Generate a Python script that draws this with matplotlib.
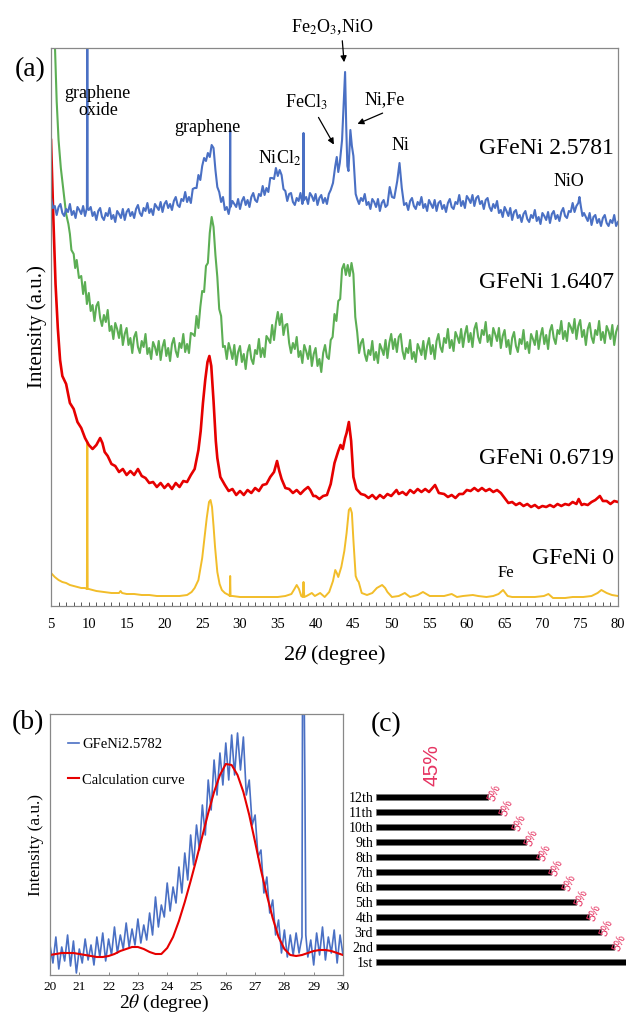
import matplotlib
matplotlib.use("Agg")
import matplotlib.pyplot as plt
from matplotlib.ticker import MultipleLocator

plt.rcParams["font.family"] = ["Liberation Serif", "DejaVu Serif"]
plt.rcParams["mathtext.fontset"] = "stix"

# ---------------- (a) stacked XRD patterns, (2theta, intensity a.u.) ----------------
BLUE_A = [
    (5.0, 408), (5.25, 398), (5.5, 400), (5.75, 391), (6.0, 399), (6.25, 402), (6.5, 393), (6.75, 390),
    (7.0, 397), (7.25, 394), (7.5, 402), (7.75, 391), (8.0, 395), (8.25, 388), (8.5, 399), (8.75, 396),
    (9.0, 392), (9.25, 400), (9.5, 390), (9.75, 398), (9.8, 600), (9.85, 398), (10.0, 396), (10.25, 399),
    (10.5, 390), (10.75, 394), (11.0, 386), (11.25, 395), (11.5, 398), (11.75, 389), (12.0, 386), (12.25, 393),
    (12.5, 390), (12.75, 398), (13.0, 387), (13.25, 391), (13.5, 384), (13.75, 395), (14.0, 392), (14.25, 388),
    (14.5, 397), (14.75, 386), (15.0, 394), (15.25, 397), (15.5, 390), (15.75, 394), (16.0, 388), (16.25, 397),
    (16.5, 401), (16.75, 393), (17.0, 390), (17.25, 398), (17.5, 395), (17.75, 403), (18.0, 393), (18.25, 397),
    (18.5, 391), (18.75, 402), (19.0, 399), (19.25, 396), (19.5, 404), (19.75, 394), (20.0, 402), (20.25, 405),
    (20.5, 398), (20.75, 402), (21.0, 396), (21.25, 405), (21.5, 409), (21.75, 401), (22.0, 399), (22.25, 407),
    (22.5, 405), (22.75, 414), (23.0, 404), (23.25, 409), (23.5, 403), (23.75, 417), (24.0, 418), (24.25, 418),
    (24.5, 431), (24.75, 426), (25.0, 440), (25.25, 448), (25.5, 445), (25.75, 453), (26.0, 449), (26.25, 461),
    (26.5, 458), (26.75, 436), (27.0, 419), (27.25, 414), (27.5, 404), (27.75, 409), (28.0, 396), (28.25, 399),
    (28.5, 392), (28.65, 398), (28.7, 476), (28.75, 399), (29.0, 405), (29.25, 402), (29.5, 399), (29.75, 407),
    (30.0, 397), (30.25, 405), (30.5, 409), (30.75, 401), (31.0, 406), (31.25, 399), (31.5, 409), (31.75, 413),
    (32.0, 406), (32.25, 404), (32.5, 412), (32.75, 410), (33.0, 420), (33.25, 411), (33.5, 418), (33.75, 414),
    (34.0, 428), (34.25, 428), (34.5, 427), (34.75, 438), (35.0, 430), (35.25, 436), (35.5, 431), (35.75, 417),
    (36.0, 415), (36.25, 405), (36.5, 412), (36.75, 413), (37.0, 404), (37.25, 401), (37.5, 408), (37.75, 405),
    (38.0, 413), (38.25, 402), (38.35, 405), (38.4, 473), (38.45, 406), (38.75, 409), (39.0, 402), (39.25, 413),
    (39.5, 410), (39.75, 405), (40.0, 412), (40.25, 401), (40.5, 408), (40.75, 411), (41.0, 403), (41.25, 408),
    (41.5, 402), (41.75, 412), (42.0, 416), (42.3, 423), (42.6, 440), (42.8, 449), (43.0, 434), (43.2, 443),
    (43.5, 466), (43.75, 510), (43.9, 534), (44.05, 480), (44.2, 440), (44.35, 435), (44.6, 476), (44.8, 460),
    (45.0, 450), (45.3, 412), (45.5, 407), (45.75, 402), (46.0, 408), (46.25, 405), (46.5, 412), (46.75, 401),
    (47.0, 404), (47.25, 397), (47.5, 407), (47.75, 404), (48.0, 399), (48.25, 407), (48.5, 395), (48.75, 403),
    (49.0, 406), (49.25, 399), (49.5, 401), (49.8, 419), (50.1, 409), (50.4, 408), (50.8, 425), (51.1, 443),
    (51.4, 418), (51.7, 401), (52.0, 403), (52.25, 396), (52.5, 405), (52.75, 408), (53.0, 400), (53.25, 397),
    (53.5, 404), (53.75, 401), (54.0, 409), (54.25, 398), (54.5, 402), (54.75, 395), (55.0, 406), (55.25, 402),
    (55.5, 398), (55.75, 406), (56.0, 395), (56.25, 403), (56.5, 405), (56.75, 397), (57.0, 401), (57.25, 394),
    (57.5, 403), (57.75, 407), (58.0, 399), (58.25, 397), (58.5, 404), (58.75, 402), (59.0, 411), (59.25, 400),
    (59.5, 405), (59.75, 398), (60.0, 410), (60.25, 407), (60.5, 403), (60.75, 411), (61.0, 400), (61.25, 408),
    (61.5, 410), (61.75, 402), (62.0, 405), (62.25, 397), (62.5, 406), (62.75, 408), (63.0, 399), (63.25, 395),
    (63.5, 402), (63.75, 398), (64.0, 405), (64.25, 393), (64.5, 396), (64.75, 389), (65.0, 399), (65.25, 395),
    (65.5, 390), (65.75, 398), (66.0, 386), (66.25, 394), (66.5, 396), (66.75, 388), (67.0, 391), (67.25, 384),
    (67.5, 392), (67.75, 395), (68.0, 387), (68.25, 384), (68.5, 391), (68.75, 388), (69.0, 396), (69.25, 385),
    (69.5, 389), (69.75, 382), (70.0, 393), (70.25, 390), (70.5, 386), (70.75, 394), (71.0, 383), (71.25, 392),
    (71.5, 395), (71.75, 387), (72.0, 391), (72.25, 385), (72.5, 394), (72.75, 398), (73.0, 390), (73.25, 388),
    (73.5, 395), (73.75, 394), (74.0, 403), (74.25, 394), (74.5, 400), (74.75, 403), (74.9, 409), (75.1, 399),
    (75.3, 390), (75.5, 393), (75.75, 389), (76.0, 385), (76.25, 393), (76.5, 381), (76.75, 389), (77.0, 391),
    (77.25, 383), (77.5, 387), (77.75, 380), (78.0, 388), (78.25, 391), (78.5, 383), (78.75, 380), (79.0, 386),
    (79.25, 383), (79.5, 391), (79.75, 380), (80.0, 384),
]

GREEN_A = [
    (5.3, 600), (5.5, 565), (5.75, 505), (6.0, 466), (6.3, 438), (6.6, 418), (7.0, 392), (7.3, 382),
    (7.5, 372), (7.7, 356), (8.0, 352), (8.2, 338), (8.4, 346), (8.7, 328), (9.0, 330), (9.25, 312),
    (9.5, 324), (9.75, 302), (10.0, 313), (10.25, 295), (10.5, 301), (10.75, 285), (11.0, 300), (11.25, 304),
    (11.5, 288), (11.75, 280), (12.0, 291), (12.25, 284), (12.5, 296), (12.75, 275), (13.0, 280), (13.25, 267),
    (13.5, 283), (13.75, 277), (14.0, 268), (14.25, 281), (14.5, 261), (14.75, 272), (15.0, 278), (15.25, 261),
    (15.5, 268), (15.75, 253), (16.0, 269), (16.25, 274), (16.5, 259), (16.75, 253), (17.0, 265), (17.25, 259),
    (17.5, 272), (17.75, 252), (18.0, 258), (18.25, 247), (18.5, 264), (18.75, 259), (19.0, 251), (19.25, 265),
    (19.5, 246), (19.75, 259), (20.0, 266), (20.25, 250), (20.5, 258), (20.75, 245), (21.0, 262), (21.25, 268),
    (21.5, 255), (21.75, 249), (22.0, 263), (22.25, 258), (22.5, 272), (22.75, 254), (23.0, 262), (23.25, 253),
    (23.5, 273), (23.75, 272), (24.0, 270), (24.25, 290), (24.5, 278), (24.75, 299), (25.0, 315), (25.25, 314),
    (25.5, 340), (25.75, 343), (26.0, 373), (26.25, 389), (26.5, 379), (26.75, 351), (27.0, 329), (27.25, 297),
    (27.5, 290), (27.75, 259), (28.0, 260), (28.25, 247), (28.5, 263), (28.75, 256), (29.0, 247), (29.25, 261),
    (29.5, 241), (29.75, 254), (30.0, 260), (30.25, 244), (30.5, 252), (30.75, 237), (31.0, 254), (31.25, 261),
    (31.5, 247), (31.75, 242), (32.0, 256), (32.25, 252), (32.5, 267), (32.75, 249), (33.0, 258), (33.25, 249),
    (33.5, 270), (33.75, 267), (34.0, 263), (34.25, 281), (34.5, 266), (34.75, 283), (35.0, 294), (35.25, 281),
    (35.5, 292), (35.75, 271), (36.0, 281), (36.25, 282), (36.5, 263), (36.75, 253), (37.0, 263), (37.25, 257),
    (37.5, 269), (37.75, 249), (38.0, 255), (38.25, 243), (38.5, 261), (38.75, 255), (39.0, 247), (39.25, 260),
    (39.5, 240), (39.75, 252), (40.0, 258), (40.25, 240), (40.5, 247), (40.75, 234), (41.0, 253), (41.25, 261),
    (41.5, 249), (41.75, 247), (42.0, 266), (42.25, 269), (42.5, 292), (42.75, 285), (43.0, 305), (43.25, 307),
    (43.5, 337), (43.75, 342), (44.0, 331), (44.25, 341), (44.5, 330), (44.75, 343), (45.0, 332), (45.25, 289),
    (45.5, 274), (45.75, 253), (46.0, 263), (46.25, 267), (46.5, 252), (46.75, 245), (47.0, 256), (47.25, 251),
    (47.5, 265), (47.75, 246), (48.0, 254), (48.25, 243), (48.5, 262), (48.75, 257), (49.0, 251), (49.25, 266),
    (49.5, 248), (49.75, 263), (50.0, 272), (50.25, 257), (50.5, 267), (50.75, 254), (51.0, 269), (51.25, 272),
    (51.5, 255), (51.75, 247), (52.0, 258), (52.25, 253), (52.5, 266), (52.75, 247), (53.0, 254), (53.25, 244),
    (53.5, 262), (53.75, 257), (54.0, 251), (54.25, 265), (54.5, 247), (54.75, 260), (55.0, 268), (55.25, 252),
    (55.5, 261), (55.75, 247), (56.0, 265), (56.25, 272), (56.5, 259), (56.75, 254), (57.0, 268), (57.25, 263),
    (57.5, 277), (57.75, 258), (58.0, 266), (58.25, 255), (58.5, 274), (58.75, 269), (59.0, 263), (59.25, 277),
    (59.5, 259), (59.75, 272), (60.0, 280), (60.25, 264), (60.5, 273), (60.75, 259), (61.0, 277), (61.25, 283),
    (61.5, 269), (61.75, 263), (62.0, 276), (62.25, 271), (62.5, 284), (62.75, 264), (63.0, 271), (63.25, 260),
    (63.5, 278), (63.75, 272), (64.0, 265), (64.25, 278), (64.5, 258), (64.75, 270), (65.0, 276), (65.25, 259),
    (65.5, 266), (65.75, 252), (66.0, 268), (66.25, 274), (66.5, 260), (66.75, 254), (67.0, 267), (67.25, 262),
    (67.5, 276), (67.75, 257), (68.0, 264), (68.25, 253), (68.5, 272), (68.75, 267), (69.0, 261), (69.25, 275),
    (69.5, 257), (69.75, 270), (70.0, 278), (70.25, 262), (70.5, 271), (70.75, 257), (71.0, 275), (71.25, 281),
    (71.5, 268), (71.75, 262), (72.0, 276), (72.25, 272), (72.5, 285), (72.75, 267), (73.0, 275), (73.25, 265),
    (73.5, 283), (73.75, 279), (74.0, 273), (74.25, 287), (74.5, 267), (74.75, 280), (75.0, 286), (75.25, 269),
    (75.5, 276), (75.75, 261), (76.0, 277), (76.25, 283), (76.5, 269), (76.75, 263), (77.0, 276), (77.25, 271),
    (77.5, 285), (77.75, 266), (78.0, 274), (78.25, 263), (78.5, 280), (78.75, 275), (79.0, 267), (79.25, 281),
    (79.5, 261), (79.75, 274), (80.0, 280),
]

RED_A = [
    (5.0, 466), (5.3, 390), (5.6, 322), (5.9, 278), (6.2, 246), (6.5, 230), (7.0, 222), (7.5, 203),
    (8.0, 197), (8.5, 184), (9.0, 178), (9.5, 168), (10.0, 161), (10.5, 157), (11.0, 161), (11.5, 168),
    (11.8, 163), (12.1, 154), (12.5, 150), (13.0, 142), (13.5, 140), (14.0, 134), (14.5, 137), (15.0, 131),
    (15.5, 135), (16.0, 131), (16.5, 137), (17.0, 130), (17.5, 128), (18.0, 123), (18.5, 124), (19.0, 119),
    (19.5, 123), (20.0, 118), (20.5, 122), (21.0, 117), (21.5, 123), (22.0, 119), (22.5, 125), (23.0, 124),
    (23.5, 131), (24.0, 137), (24.5, 156), (24.8, 175), (25.1, 203), (25.4, 226), (25.7, 244), (25.95, 250),
    (26.2, 240), (26.5, 205), (26.8, 165), (27.0, 148), (27.4, 129), (28.0, 121), (28.5, 115), (29.0, 117),
    (29.5, 111), (30.0, 115), (30.5, 111), (31.0, 116), (31.5, 113), (32.0, 118), (32.5, 115), (33.0, 121),
    (33.5, 122), (34.0, 129), (34.5, 134), (34.9, 145), (35.2, 135), (35.5, 127), (36.0, 118), (36.5, 117),
    (37.0, 113), (37.5, 116), (38.0, 112), (38.5, 116), (39.0, 119), (39.3, 116), (39.7, 110), (40.0, 110),
    (40.5, 107), (41.0, 110), (41.5, 111), (42.0, 122), (42.5, 143), (43.0, 155), (43.3, 161), (43.6, 157),
    (43.9, 168), (44.1, 173), (44.4, 184), (44.7, 165), (45.0, 129), (45.4, 117), (46.0, 112), (46.5, 111),
    (47.0, 108), (47.5, 111), (48.0, 107), (48.5, 111), (49.0, 108), (49.5, 112), (50.0, 110), (50.7, 116),
    (51.0, 112), (51.5, 114), (52.0, 111), (52.5, 116), (53.0, 113), (53.5, 117), (54.0, 114), (54.5, 117),
    (55.0, 114), (55.8, 121), (56.3, 113), (57.0, 112), (57.5, 109), (58.0, 111), (58.5, 108), (59.0, 112),
    (59.5, 112), (60.0, 116), (60.5, 115), (61.0, 118), (61.5, 115), (62.0, 118), (62.5, 115), (63.0, 117),
    (63.5, 114), (64.0, 116), (64.5, 113), (65.0, 108), (65.5, 103), (66.0, 104), (66.5, 101), (67.0, 103),
    (67.5, 100), (68.0, 102), (68.5, 99), (69.0, 101), (69.5, 98), (70.0, 100), (70.5, 99), (71.0, 101),
    (71.5, 99), (72.0, 102), (72.5, 100), (73.0, 102), (73.5, 101), (74.0, 104), (74.5, 102), (74.8, 107),
    (75.2, 101), (75.5, 102), (76.0, 101), (76.5, 104), (77.0, 106), (77.6, 110), (78.0, 105), (78.5, 105),
    (79.0, 102), (79.5, 105), (80.0, 104),
]

YELLOW_A = [
    (5.0, 33), (5.5, 29), (6.0, 26), (6.5, 24), (7.0, 23), (7.5, 21), (8.0, 20), (8.5, 19),
    (9.0, 18), (9.5, 18), (9.75, 17), (9.8, 164), (9.85, 17), (10.0, 17), (11.0, 15), (12.0, 14),
    (13.0, 13), (14.0, 13), (14.2, 15), (14.4, 13), (15.0, 12), (16.0, 12), (17.0, 11), (18.0, 11),
    (19.0, 10), (20.0, 10), (21.0, 10), (22.0, 10), (23.0, 11), (23.6, 14), (24.0, 18), (24.5, 26),
    (25.0, 48), (25.3, 68), (25.6, 88), (25.9, 104), (26.1, 106), (26.3, 99), (26.5, 80), (26.7, 59),
    (27.0, 34), (27.3, 22), (27.6, 16), (28.0, 13), (28.5, 11), (28.65, 10), (28.7, 30), (28.75, 10),
    (29.0, 10), (30.0, 9), (31.0, 9), (32.0, 9), (33.0, 9), (34.0, 9), (35.0, 9), (36.0, 10),
    (36.8, 12), (37.2, 17), (37.5, 21), (37.8, 17), (38.1, 10), (38.3, 9), (38.4, 24), (38.5, 9),
    (38.8, 10), (39.5, 13), (39.9, 10), (40.6, 13), (41.2, 9), (41.8, 14), (42.3, 25), (42.6, 36),
    (42.8, 33), (43.0, 29), (43.4, 39), (43.8, 55), (44.1, 73), (44.4, 96), (44.6, 98), (44.8, 93),
    (45.0, 66), (45.3, 30), (45.5, 26), (45.7, 24), (46.1, 13), (46.8, 11), (47.5, 13), (48.1, 18),
    (48.8, 21), (49.2, 18), (49.5, 14), (50.1, 9), (51.0, 10), (51.8, 13), (52.5, 9), (53.5, 11),
    (54.2, 14), (55.1, 10), (56.0, 10), (57.0, 10), (58.0, 12), (58.7, 9), (59.5, 10), (60.8, 11),
    (61.5, 10), (62.6, 9), (63.5, 10), (64.2, 12), (64.8, 16), (65.4, 10), (66.0, 9), (67.0, 9),
    (68.0, 9), (69.0, 9), (70.2, 10), (70.8, 12), (71.4, 8), (72.0, 8), (73.0, 8), (74.0, 9),
    (75.4, 9), (76.5, 10), (77.3, 13), (77.8, 16), (78.5, 13), (79.2, 11), (80.0, 10),
]

SAMPLE_NAMES = ["GFeNi 2.5781", "GFeNi 1.6407", "GFeNi 0.6719", "GFeNi 0"]
SAMPLE_LABEL_Y = [458, 324, 148, 48]

# peak annotations: (text, x, y)
PEAK_LABELS = [
    ("graphene\noxide", 11.2, 504),
    ("graphene", 25.7, 479),
    ("NiCl$_2$", 35.2, 448),
    ("FeCl$_3$", 38.8, 504),
    ("Fe$_2$O$_3$,NiO", 42.2, 579),
    ("Ni,Fe", 49.2, 506),
    ("Ni", 51.2, 461),
    ("NiO", 73.5, 424),
]
# arrows: (x_from, y_from, x_to, y_to)
PEAK_ARROWS = [
    (43.5, 568, 43.8, 541),
    (40.2, 491, 42.6, 459),
    (49.2, 494, 45.2, 481),
]

# ---------------- (b) fit of the graphene peak ----------------
B_MEASURED = [
    (20.0, 30), (20.1, 12), (20.2, 38), (20.3, 6), (20.4, 28), (20.5, 14), (20.6, 40), (20.7, 9),
    (20.8, 34), (20.9, 2), (21.0, 26), (21.1, 12), (21.2, 36), (21.3, 15), (21.4, 30), (21.5, 10),
    (21.6, 38), (21.7, 18), (21.8, 42), (21.9, 14), (22.0, 36), (22.1, 20), (22.2, 48), (22.3, 22),
    (22.4, 40), (22.5, 26), (22.6, 52), (22.7, 28), (22.8, 46), (22.9, 30), (23.0, 56), (23.1, 32),
    (23.2, 50), (23.3, 35), (23.4, 62), (23.5, 40), (23.6, 78), (23.7, 48), (23.8, 70), (23.9, 58),
    (24.0, 92), (24.1, 64), (24.2, 88), (24.3, 72), (24.4, 108), (24.5, 82), (24.6, 122), (24.7, 95),
    (24.8, 140), (24.9, 110), (25.0, 150), (25.1, 125), (25.2, 170), (25.3, 140), (25.4, 195), (25.5, 165),
    (25.6, 215), (25.7, 180), (25.8, 222), (25.9, 190), (26.0, 232), (26.1, 195), (26.2, 240), (26.3, 200),
    (26.4, 242), (26.5, 205), (26.6, 238), (26.7, 180), (26.8, 195), (26.9, 150), (27.0, 160), (27.1, 118),
    (27.2, 125), (27.3, 82), (27.4, 98), (27.5, 62), (27.6, 75), (27.7, 40), (27.8, 55), (27.9, 22),
    (28.0, 45), (28.1, 18), (28.2, 40), (28.3, 20), (28.4, 42), (28.5, 22), (28.6, 38), (28.62, 300),
    (28.67, 300), (28.7, 190), (28.73, 40), (28.8, 18), (28.9, 35), (29.0, 10), (29.1, 42), (29.2, 20),
    (29.3, 48), (29.4, 15), (29.5, 38), (29.6, 22), (29.7, 45), (29.8, 12), (29.9, 40), (30.0, 20),
]
B_FIT = [
    (20.0, 20), (20.2, 21), (20.4, 22), (20.6, 22), (20.8, 22), (21.0, 21), (21.2, 20), (21.4, 19),
    (21.6, 18), (21.8, 18), (22.0, 19), (22.2, 21), (22.4, 24), (22.6, 26), (22.8, 28), (23.0, 28),
    (23.2, 26), (23.4, 23), (23.6, 21), (23.8, 21), (24.0, 27), (24.2, 38), (24.4, 54), (24.6, 73),
    (24.8, 94), (25.0, 116), (25.2, 139), (25.4, 162), (25.6, 183), (25.8, 200), (26.0, 211), (26.2, 210),
    (26.4, 200), (26.6, 183), (26.8, 160), (27.0, 133), (27.2, 105), (27.4, 80), (27.6, 57), (27.8, 38),
    (28.0, 26), (28.2, 20), (28.4, 19), (28.6, 20), (28.8, 22), (29.0, 24), (29.2, 25), (29.4, 25),
    (29.6, 24), (29.8, 22), (30.0, 20),
]

# ---------------- (c) layer bars ----------------
LAYERS = ["1st", "2nd", "3rd", "4th", "5th", "6th", "7th", "8th", "9th", "10th", "11th", "12th"]
LAYER_SHARE = [100, 95, 90, 85, 80, 75, 70, 65, 60, 55, 50, 45]
STEP_TEXT = "5%"
TOP_TEXT = "45%"

BLUE = "#4a70c4"
GREEN = "#5cae54"
RED = "#e60000"
GOLD = "#f2bd2a"
PINK = "#e63462"

fig = plt.figure(figsize=(6.27, 10.16), dpi=100)

# ---- panel (a)
ax = fig.add_axes([51 / 627, 1 - 606 / 1016, 567 / 627, 558 / 1016])
for data, col, lw in [(YELLOW_A, GOLD, 1.4), (RED_A, RED, 1.9), (GREEN_A, GREEN, 1.5), (BLUE_A, BLUE, 1.5)]:
    xs, ys = zip(*data)
    ax.plot(xs, ys, color=col, lw=lw)
ax.set_xlim(5, 80)
ax.set_ylim(0, 558)
ax.set_yticks([])
ax.xaxis.set_major_locator(MultipleLocator(5))
ax.xaxis.set_minor_locator(MultipleLocator(1))
ax.tick_params(axis="x", which="both", direction="in", length=3, width=0.7, color="#555555",
               labelsize=10.5, pad=9)
for sp in ax.spines.values():
    sp.set_color("#888888")
    sp.set_linewidth(0.9)
ax.set_xlabel(r"2$\it{\theta}$ (degree)", fontsize=16, labelpad=8)
ax.set_ylabel("Intensity (a.u.)", fontsize=15, labelpad=3)

for name, yy in zip(SAMPLE_NAMES, SAMPLE_LABEL_Y):
    ax.text(79.5, yy, name, ha="right", va="center", fontsize=17)
for txt, xx, yy in PEAK_LABELS:
    ax.text(xx, yy, txt, ha="center", va="center", fontsize=13, linespacing=1.0, clip_on=False)
ax.text(65.1, 33, "Fe", ha="center", va="center", fontsize=12)
for x0, y0, x1, y1 in PEAK_ARROWS:
    ax.annotate("", xy=(x1, y1), xytext=(x0, y0), annotation_clip=False,
                arrowprops=dict(arrowstyle="-|>", color="black", lw=0.9, mutation_scale=9))

# ---- panel (b)
bx = fig.add_axes([50 / 627, 1 - 975 / 1016, 293 / 627, 261 / 1016])
mx, my = zip(*B_MEASURED)
fx, fy = zip(*B_FIT)
bx.plot(mx, my, color=BLUE, lw=1.2, label="GFeNi2.5782")
bx.plot(fx, fy, color=RED, lw=1.5, label="Calculation curve")
bx.set_xlim(20, 30)
bx.set_ylim(0, 261)
bx.set_yticks([])
bx.xaxis.set_major_locator(MultipleLocator(1))
bx.tick_params(axis="x", direction="in", length=2, width=0.6, color="#777777", labelsize=9.5, pad=4)
for sp in bx.spines.values():
    sp.set_color("#888888")
    sp.set_linewidth(0.9)
bx.set_xlabel(r"2$\it{\theta}$ (degree)", fontsize=14, labelpad=0)
bx.xaxis.set_label_coords(0.39, -0.068)
bx.set_ylabel("Intensity (a.u.)", fontsize=12.5, labelpad=4)
bx.legend(loc="upper left", bbox_to_anchor=(0.06, 0.91), frameon=False, fontsize=10.5,
          handlelength=0.8, handletextpad=0.2, labelspacing=1.55, borderpad=0, borderaxespad=0)

# ---- panel (c)
cx = fig.add_axes([376 / 627, 1 - 969.5 / 1016, 250 / 627, 180 / 1016])
pos = list(range(1, len(LAYERS) + 1))
cx.barh(pos, LAYER_SHARE, height=0.4, color="black", edgecolor="#777777", linewidth=0.5)
cx.set_xlim(0, 100)
cx.set_ylim(0.5, 12.5)
cx.set_yticks(pos)
cx.set_yticklabels(LAYERS, fontsize=10)
cx.tick_params(axis="y", length=0, pad=2)
cx.set_xticks([])
for sp in cx.spines.values():
    sp.set_visible(False)
for p, v in zip(pos[1:], LAYER_SHARE[1:]):
    cx.text(v + 2.4, p + 0.3, STEP_TEXT, rotation=68, ha="center", va="center", fontsize=8.5,
            color=PINK, family="Liberation Sans", clip_on=False)
cx.text(LAYER_SHARE[-1] / 2, 14.1, TOP_TEXT, rotation=90, ha="center", va="center", fontsize=15,
        color=PINK, family="Liberation Sans", clip_on=False)

# ---- panel letters
fig.text(30 / 627, 1 - 70 / 1016, "(a)", fontsize=20, ha="center", va="center")
fig.text(28 / 627, 1 - 723 / 1016, "(b)", fontsize=20, ha="center", va="center")
fig.text(386 / 627, 1 - 725 / 1016, "(c)", fontsize=20, ha="center", va="center")

fig.savefig("out.png", dpi=100)
